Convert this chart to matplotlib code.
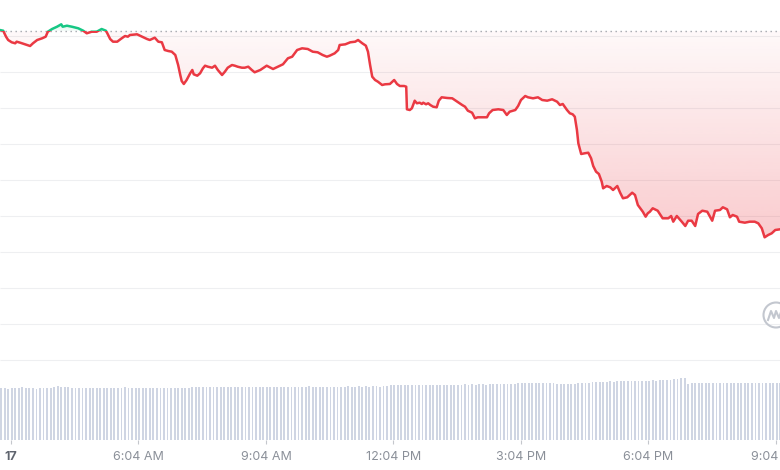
import numpy as np
import matplotlib
matplotlib.use("Agg")
import matplotlib.pyplot as plt
from matplotlib.patches import Rectangle, Circle
from matplotlib.colors import to_rgb

# price samples: minutes after midnight and price (USD)
minutes = [168, 173, 177, 180, 185, 190, 192, 197, 204, 211, 215, 221, 228, 233, 236, 242, 249, 255,
           257, 263, 270, 279, 286, 291, 298, 305, 312, 318, 320, 324, 328, 334, 339, 345, 349, 352,
           362, 376, 380, 387, 392, 397, 401, 406, 411, 416, 420, 423, 425, 428, 432, 437, 440, 442,
           447, 451, 455, 458, 462, 468, 472, 476, 482, 486, 490, 496, 500, 504, 510, 514, 519, 524,
           528, 536, 545, 554, 561, 568, 575, 581, 588, 595, 603, 610, 617, 624, 630, 634, 641, 646,
           648, 656, 663, 670, 674, 680, 685, 688, 691, 694, 698, 702, 708, 712, 719, 725, 729, 733,
           739, 742, 743, 747, 750, 754, 757, 761, 764, 766, 770, 773, 776, 780, 785, 788, 792, 800,
           807, 814, 821, 825, 829, 835, 839, 843, 850, 856, 859, 864, 872, 879, 884, 888, 896, 900,
           904, 910, 914, 921, 928, 934, 941, 948, 955, 959, 963, 969, 973, 977, 980, 983, 985, 989,
           994, 999, 1003, 1006, 1010, 1014, 1018, 1020, 1025, 1030, 1034, 1040, 1044, 1048, 1054,
           1061, 1065, 1069, 1076, 1080, 1083, 1086, 1090, 1097, 1104, 1112, 1116, 1119, 1124, 1131,
           1136, 1140, 1145, 1150, 1154, 1160, 1167, 1174, 1178, 1185, 1189, 1195, 1199, 1203, 1209,
           1212, 1220, 1227, 1234, 1239, 1244, 1248, 1253, 1258, 1263, 1270]
price = [1.6167, 1.6147, 1.5981, 1.5889, 1.5825, 1.5797, 1.5842, 1.5814, 1.5769, 1.5722, 1.5797,
         1.5889, 1.5936, 1.5981, 1.6119, 1.6194, 1.6258, 1.6325, 1.6258, 1.6286, 1.6258, 1.6214,
         1.6147, 1.6075, 1.6119, 1.6119, 1.6194, 1.6147, 1.6075, 1.5917, 1.5842, 1.5842, 1.5917,
         1.6000, 1.5981, 1.6028, 1.6047, 1.5917, 1.5889, 1.5953, 1.5842, 1.5825, 1.5611, 1.5583,
         1.5564, 1.5472, 1.5194, 1.4917, 1.4750, 1.4667, 1.4778, 1.4964, 1.5056, 1.4936, 1.4897,
         1.4964, 1.5103, 1.5175, 1.5147, 1.5119, 1.5175, 1.5056, 1.4917, 1.5008, 1.5119, 1.5194,
         1.5175, 1.5147, 1.5119, 1.5119, 1.5147, 1.5056, 1.4992, 1.5056, 1.5175, 1.5083, 1.5147,
         1.5214, 1.5381, 1.5425, 1.5611, 1.5658, 1.5639, 1.5564, 1.5547, 1.5472, 1.5425, 1.5453,
         1.5519, 1.5611, 1.5750, 1.5769, 1.5825, 1.5842, 1.5889, 1.5797, 1.5731, 1.5564, 1.5194,
         1.4869, 1.4778, 1.4731, 1.4639, 1.4658, 1.4667, 1.4778, 1.4667, 1.4611, 1.4611, 1.4592,
         1.3964, 1.3944, 1.3992, 1.4203, 1.4131, 1.4147, 1.4111, 1.4147, 1.4103, 1.4131, 1.4083,
         1.4036, 1.4019, 1.4203, 1.4297, 1.4278, 1.4269, 1.4175, 1.4083, 1.4036, 1.3925, 1.3869,
         1.3714, 1.3742, 1.3742, 1.3742, 1.3853, 1.3944, 1.3964, 1.3944, 1.3806, 1.3897, 1.3944,
         1.4056, 1.4222, 1.4333, 1.4297, 1.4269, 1.4297, 1.4222, 1.4203, 1.4242, 1.4175, 1.4083,
         1.4111, 1.3944, 1.3853, 1.3825, 1.3758, 1.3389, 1.3019, 1.2722, 1.2742, 1.2758, 1.2603,
         1.2389, 1.2231, 1.2167, 1.1953, 1.1769, 1.1833, 1.1797, 1.1722, 1.1833, 1.1647, 1.1492,
         1.1519, 1.1647, 1.1583, 1.1306, 1.1119, 1.0981, 1.1075, 1.1119, 1.1214, 1.1147, 1.0936,
         1.0936, 1.1000, 1.0842, 1.1000, 1.0842, 1.0722, 1.0869, 1.0869, 1.0722, 1.1056, 1.1147,
         1.1119, 1.0869, 1.1147, 1.1167, 1.1242, 1.1186, 1.0964, 1.1028, 1.0981, 1.0842, 1.0814,
         1.0842, 1.0842, 1.0797, 1.0658, 1.0408, 1.0472, 1.0519, 1.0611, 1.0631]
open_price = 1.6139

# 5-minute volume bars (millions)
vol_start = 170
volume = [5.2, 5.2, 5.1, 5.2, 5.2, 5.2, 5.3, 5.2, 5.2, 5.2, 5.1, 5.2, 5.2, 5.2, 5.2, 5.3, 5.4, 5.35, 5.35, 5.3,
          5.2, 5.2, 5.2, 5.25, 5.2, 5.2, 5.2, 5.2, 5.25, 5.2, 5.2, 5.2, 5.25, 5.2, 5.2, 5.3, 5.2, 5.2, 5.2, 5.25,
          5.2, 5.2, 5.25, 5.2, 5.2, 5.2, 5.25, 5.2, 5.2, 5.2, 5.25, 5.2, 5.2, 5.25, 5.3, 5.3, 5.3, 5.35, 5.3, 5.3,
          5.3, 5.35, 5.3, 5.3, 5.3, 5.35, 5.3, 5.3, 5.35, 5.3, 5.3, 5.3, 5.35, 5.3, 5.3, 5.35, 5.3, 5.3, 5.3, 5.35,
          5.3, 5.3, 5.35, 5.3, 5.3, 5.35, 5.3, 5.4, 5.35, 5.35, 5.3, 5.35, 5.3, 5.3, 5.35, 5.35, 5.3, 5.35, 5.4, 5.35,
          5.35, 5.4, 5.35, 5.4, 5.35, 5.4, 5.4, 5.35, 5.4, 5.4, 5.5, 5.55, 5.5, 5.5, 5.55, 5.5, 5.5, 5.55, 5.5, 5.55,
          5.5, 5.5, 5.55, 5.5, 5.55, 5.5, 5.55, 5.5, 5.55, 5.5, 5.55, 5.6, 5.55, 5.6, 5.55, 5.6, 5.6, 5.55, 5.6, 5.6,
          5.6, 5.65, 5.6, 5.65, 5.6, 5.65, 5.7, 5.7, 5.7, 5.75, 5.7, 5.75, 5.7, 5.7, 5.75, 5.7, 5.7, 5.6, 5.6, 5.6,
          5.6, 5.65, 5.65, 5.7, 5.7, 5.75, 5.75, 5.8, 5.8, 5.8, 5.85, 5.85, 5.9, 5.85, 5.9, 5.9, 5.9, 5.95, 5.9, 5.9,
          5.95, 5.9, 5.95, 5.95, 6.0, 5.95, 6.0, 6.0, 6.05, 6.0, 6.1, 6.15, 6.2, 6.25, 5.65, 5.7, 5.7, 5.7, 5.75, 5.7,
          5.7, 5.75, 5.7, 5.7, 5.75, 5.7, 5.7, 5.75, 5.75, 5.7, 5.75, 5.7, 5.75, 5.75, 5.7, 5.75, 5.75, 5.7, 5.75,
          5.75, 5.75]

tick_minutes = [184, 364, 544, 724, 904, 1084, 1264]
tick_labels = ["17", "6:04 AM", "9:04 AM", "12:04 PM", "3:04 PM", "6:04 PM", "9:04 PM"]
grid_levels = [0.7, 0.8, 0.9, 1.0, 1.1, 1.2, 1.3, 1.4, 1.5, 1.6]

RED = "#ea3943"
GREEN = "#16c784"

t = np.array(minutes, dtype=float)
p = np.array(price)
x0, x1 = 168.5, 1269.7
y0, y1 = 0.3944, 1.7

fig = plt.figure(figsize=(7.8, 4.7), dpi=100)
ax = fig.add_axes([0, 0, 1, 1])
ax.axis("off")

ax.hlines(grid_levels, x0, x1, color="#eeeff1", lw=0.8, zorder=0)


def gradient_fill(lower, upper, color, a_bottom, a_top, lo, hi):
    poly = ax.fill_between(t, lower, upper, facecolor="none", edgecolor="none")
    rgb = to_rgb(color)
    img = np.zeros((256, 1, 4))
    img[:, 0, :3] = rgb
    img[:, 0, 3] = np.linspace(a_bottom, a_top, 256)
    im = ax.imshow(img, extent=[x0, x1, lo, hi], origin="lower",
                   aspect="auto", zorder=1, interpolation="bilinear")
    im.set_clip_path(poly.get_paths()[0], ax.transData)


gradient_fill(np.minimum(p, open_price), open_price, RED, 0.26, 0.03, p.min(), open_price)
gradient_fill(open_price, np.maximum(p, open_price), GREEN, 0.04, 0.16, open_price, p.max())

ax.axhline(open_price, color="#a3a6ad", lw=1.0, linestyle=(0, (1, 2.6)), zorder=2)

red_line, = ax.plot(t, p, color=RED, lw=1.8, solid_joinstyle="round", zorder=4)
red_line.set_clip_path(Rectangle((x0, y0), x1 - x0, open_price - y0, transform=ax.transData))
green_line, = ax.plot(t, p, color=GREEN, lw=1.8, solid_joinstyle="round", zorder=4)
green_line.set_clip_path(Rectangle((x0, open_price), x1 - x0, y1 - open_price, transform=ax.transData))

ax.set_xlim(x0, x1)
ax.set_ylim(y0, y1)

# volume
ax2 = ax.twinx()
ax2.axis("off")
vt = vol_start + 5 * np.arange(len(volume))
ax2.bar(vt, volume, width=2.6, color="#cfd5e3", linewidth=0)
ax2.set_xlim(x0, x1)
ax2.set_ylim(-3.0, 44.0)

# time axis
xt = ax.get_xaxis_transform()
ax.vlines(tick_minutes, 0.0553, 0.0638, transform=xt, color="#c4c7cc", lw=0.8)
for m, lab in zip(tick_minutes, tick_labels):
    bold = lab == "17"
    ax.text(m, 0.027, lab, transform=xt, ha="center", va="center",
            fontsize=9, family=["Inter", "DejaVu Sans"],
            fontweight="bold" if bold else "normal",
            color="#5f646e" if bold else "#8b9099")

# watermark logo
wm = fig.dpi_scale_trans
fig.patches.append(Circle((7.76, 1.55), 0.125, transform=wm, fill=False,
                          edgecolor="#c3c7cf", lw=1.5))
fig.lines.append(plt.Line2D([7.68, 7.71, 7.74, 7.76, 7.79, 7.81],
                            [1.50, 1.59, 1.52, 1.59, 1.52, 1.58],
                            transform=wm, color="#c3c7cf", lw=1.5))

fig.savefig("out.png", dpi=100)
